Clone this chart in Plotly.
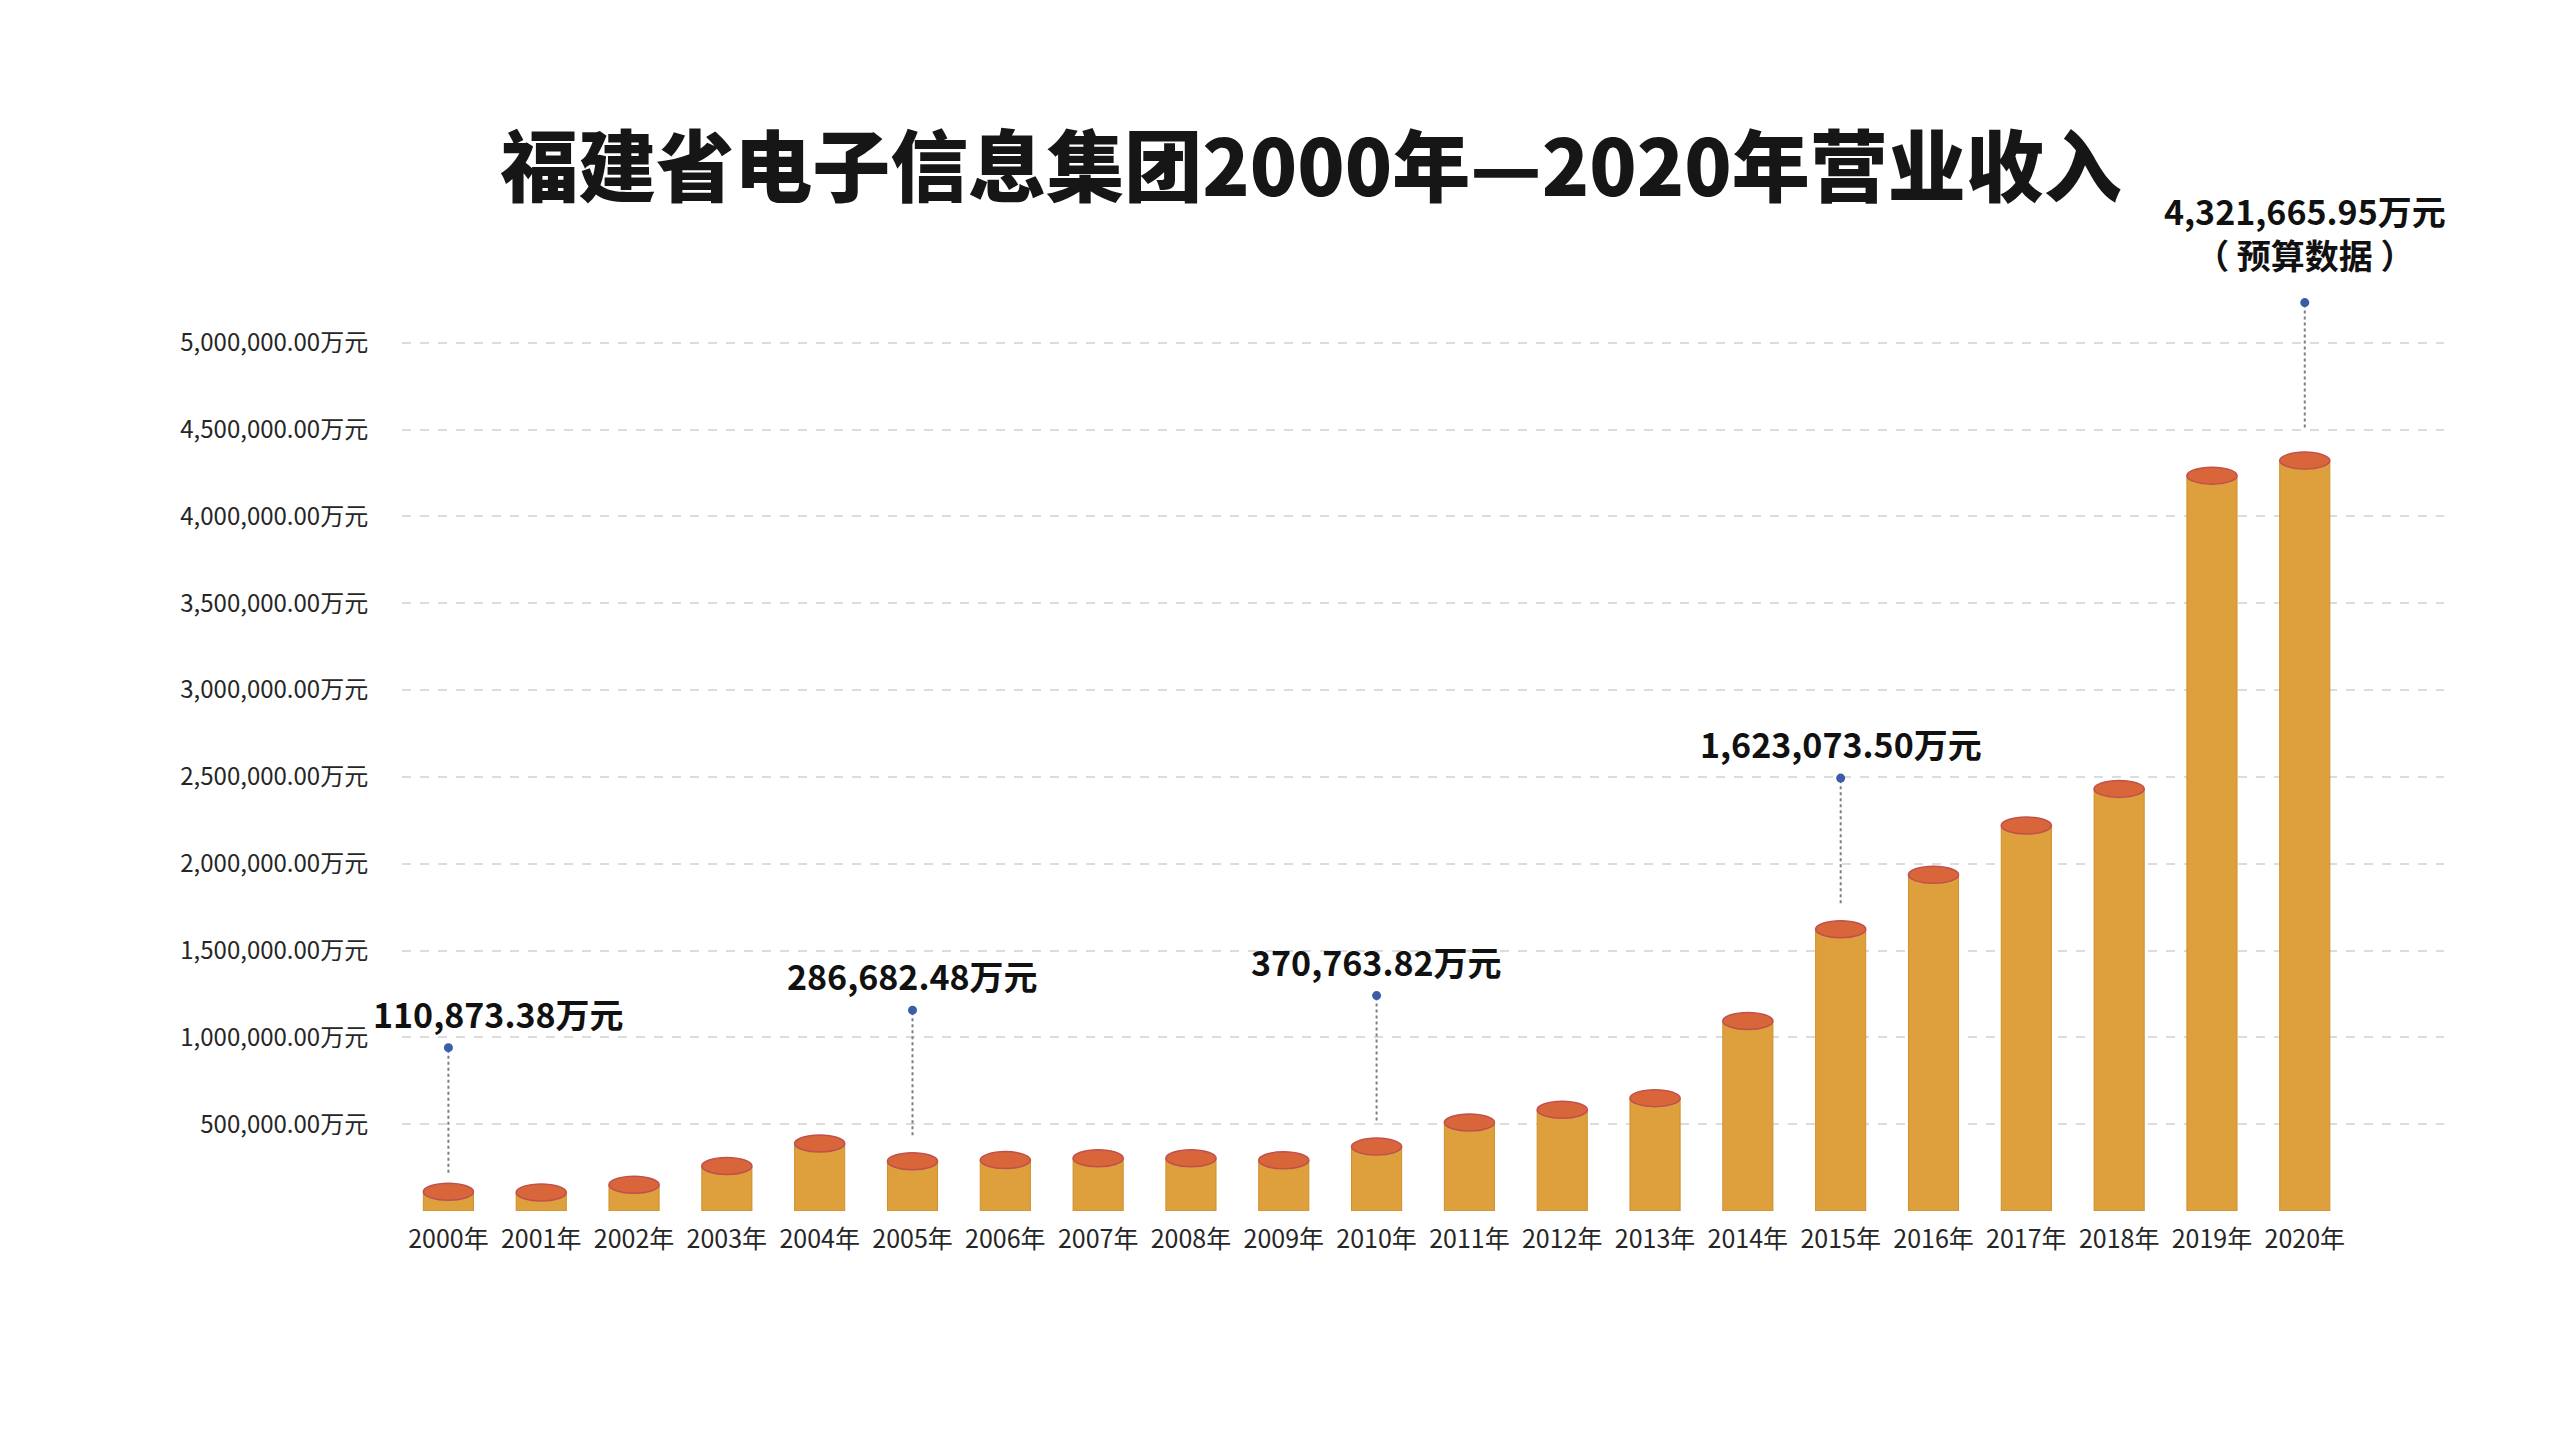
import plotly.graph_objects as go

# ---------------- data ----------------
YEARS = ["2000年", "2001年", "2002年", "2003年", "2004年", "2005年", "2006年",
         "2007年", "2008年", "2009年", "2010年", "2011年", "2012年", "2013年",
         "2014年", "2015年", "2016年", "2017年", "2018年", "2019年", "2020年"]
REVENUE = [110873.38, 107000, 151000, 259000, 389000, 286682.48, 293000,
           304000, 304000, 292000, 370763.82, 510000, 583000, 650000,
           1094000, 1623073.50, 1936000, 2220000, 2431000, 4235000, 4321665.95]
HIGHLIGHT_IDX = [0, 5, 10, 15, 20]
HIGHLIGHT_NOTE = ["", "", "", "", "（ 预算数据 ）"]
Y_TICK_VALUES = [0, 500000, 1000000, 1500000, 2000000, 2500000,
                 3000000, 3500000, 4000000, 4500000, 5000000]
Y_TICK_LABELS = ["", "500,000.00万元", "1,000,000.00万元", "1,500,000.00万元",
                 "2,000,000.00万元", "2,500,000.00万元", "3,000,000.00万元",
                 "3,500,000.00万元", "4,000,000.00万元", "4,500,000.00万元",
                 "5,000,000.00万元"]
TITLE = "福建省电子信息集团2000年—2020年营业收入"

# ---------------- style ----------------
FONT = "Noto Sans CJK SC"
BODY = "#DDA03C"
BODY_EDGE = "#CF8F2E"
TOP = "#D9663B"
TOP_EDGE = "#C0504D"
BAR_W = 0.54
LEADER_GAP = {0: 110000, 20: 190000}
LEADER_GAP_DEFAULT = 150000
LEADER_LEN = 720000
LABEL_XSHIFT = {0: 50}
LABEL_YSHIFT = {20: 14}

x = list(range(len(YEARS)))

fig = go.Figure()
fig.add_trace(go.Bar(
    x=x, y=REVENUE, width=BAR_W,
    marker=dict(color=BODY, line=dict(color=BODY_EDGE, width=1)),
    hoverinfo="skip", showlegend=False,
))

shapes = []
for i, v in enumerate(REVENUE):
    shapes.append(dict(
        type="circle", xref="x", yref="y", layer="above",
        x0=i - BAR_W / 2, x1=i + BAR_W / 2,
        ysizemode="pixel", yanchor=v, y0=-8.5, y1=8.5,
        fillcolor=TOP, line=dict(color=TOP_EDGE, width=1.5),
    ))

annotations = []
for k, i in enumerate(HIGHLIGHT_IDX):
    v = REVENUE[i]
    y_low = v + LEADER_GAP.get(i, LEADER_GAP_DEFAULT)
    y_high = y_low + LEADER_LEN
    fig.add_trace(go.Scatter(
        x=[i, i], y=[y_low, y_high], mode="lines",
        line=dict(color="#7F7F7F", width=2, dash="dot"),
        hoverinfo="skip", showlegend=False, cliponaxis=False,
    ))
    fig.add_trace(go.Scatter(
        x=[i], y=[y_high], mode="markers",
        marker=dict(color="#3A5DA8", size=9),
        hoverinfo="skip", showlegend=False, cliponaxis=False,
    ))
    txt = f"{v:,.2f}万元"
    if HIGHLIGHT_NOTE[k]:
        txt += "<br>" + HIGHLIGHT_NOTE[k]
    annotations.append(dict(
        x=i, y=y_high, xref="x", yref="y", text=txt, showarrow=False,
        yanchor="bottom", xanchor="center", yshift=8 + LABEL_YSHIFT.get(i, 0),
        xshift=LABEL_XSHIFT.get(i, 0),
        font=dict(family=FONT, size=34, color="#111111", weight="bold"),
    ))

W, H = 2576, 1440
fig.update_layout(
    width=W, height=H,
    title=dict(
        text=TITLE, x=1311 / W, y=1 - 169 / H, xanchor="center", yanchor="middle",
        font=dict(family=FONT, size=78, color="#161616", weight=900),
    ),
    margin=dict(l=402, r=132, t=256, b=229),
    paper_bgcolor="white", plot_bgcolor="white",
    shapes=shapes, annotations=annotations,
    font=dict(family=FONT),
    xaxis=dict(
        range=[-0.5, 21.5], tickmode="array", tickvals=x, ticktext=YEARS,
        showgrid=False, zeroline=False, showline=False,
        ticks="outside", ticklen=6, tickcolor="rgba(0,0,0,0)",
        tickfont=dict(family=FONT, size=25, color="#262626"),
    ),
    yaxis=dict(
        range=[0, 5500000], tickmode="array", tickvals=Y_TICK_VALUES,
        ticktext=Y_TICK_LABELS,
        showgrid=True, gridcolor="#DCDCDC", gridwidth=2, griddash="dash",
        zeroline=False, showline=False,
        ticks="outside", ticklen=28, tickcolor="rgba(0,0,0,0)",
        tickfont=dict(family=FONT, size=24, color="#262626"),
    ),
)

fig.write_html("out.html", config={"displayModeBar": False},
               post_script="document.body.style.margin='0';")
